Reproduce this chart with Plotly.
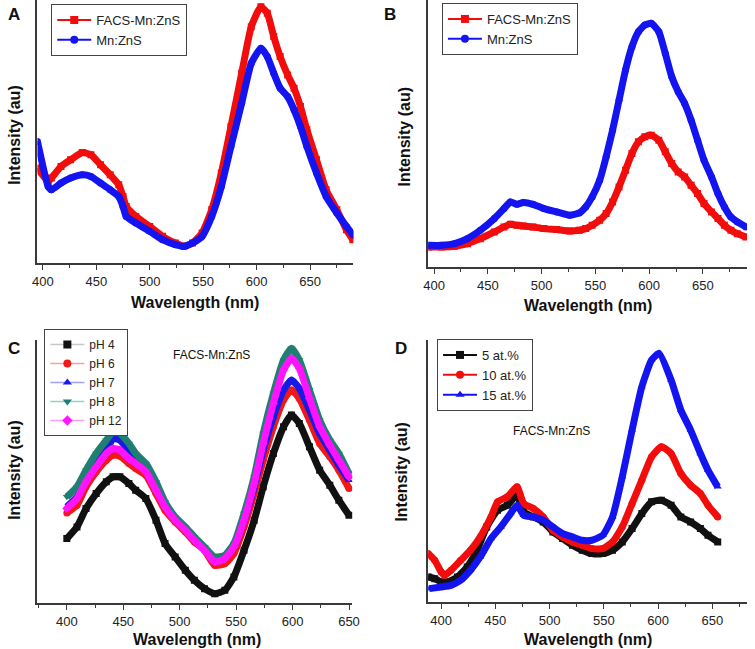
import plotly.graph_objects as go

# ---------------- Panel A ----------------
wl_a = [395, 405, 408, 417, 426, 437, 445, 454, 463, 471, 475, 478, 487, 500, 512, 524, 532, 540, 549,
        558, 567, 576, 586, 595, 604, 610, 616, 622, 629, 635, 641, 647, 656, 665, 675, 684, 690]
a_facs = [285, 245, 255, 290, 310, 332, 325, 295, 265, 235, 200, 170, 140, 110, 80, 60, 50, 60, 90,
          160, 270, 410, 570, 710, 770, 750, 680, 620, 565, 525, 470, 400, 310, 220, 160, 100, 70]
a_mn = [365, 230, 220, 240, 255, 265, 260, 240, 220, 200, 170, 140, 120, 95, 70, 55, 50, 60, 80,
        140, 230, 350, 480, 600, 645, 620, 570, 525, 500, 460, 410, 350, 270, 200, 150, 110, 85]

# ---------------- Panel B ----------------
wl_b = [395, 407, 419, 431, 443, 456, 465, 471, 477, 483, 492, 502, 514, 526, 535, 541, 547, 554, 560, 566,
        572, 578, 584, 590, 596, 602, 609, 615, 621, 627, 633, 639, 645, 651, 658, 664, 670, 676, 682, 690]
b_facs = [60, 60, 62, 70, 85, 105, 120, 128, 125, 123, 120, 115, 112, 108, 110, 115, 125, 140, 160, 195,
          240, 290, 340, 375, 390, 395, 380, 345, 310, 285, 270, 245, 220, 190, 165, 145, 125, 110, 100, 90]
b_mn = [65, 65, 70, 85, 110, 145, 175, 195, 188, 193, 188, 175, 165, 155, 162, 180, 210, 260, 330, 410,
        500, 590, 660, 705, 725, 730, 705, 640, 570, 525, 490, 440, 380, 320, 270, 220, 180, 150, 135, 120]

# ---------------- Panel C ----------------
wl_c = [400, 409, 417, 426, 435, 441, 447, 455, 461, 470, 479, 487, 496, 505, 513, 522, 531, 540, 548, 557,
        566, 574, 583, 592, 599, 606, 615, 624, 633, 641, 650]
c_ph4 = [193, 228, 283, 328, 363, 378, 378, 358, 338, 313, 248, 178, 138, 98, 68, 43, 28, 38, 78, 158,
         248, 348, 448, 528, 563, 538, 468, 398, 353, 308, 263]
c_ph6 = [270, 293, 348, 393, 428, 443, 440, 418, 403, 383, 328, 278, 243, 213, 183, 158, 113, 118, 148, 228,
         328, 428, 528, 608, 638, 613, 548, 478, 438, 398, 343]
c_ph7 = [288, 318, 368, 418, 458, 493, 488, 458, 433, 408, 348, 293, 253, 223, 193, 163, 133, 138, 168, 248,
         348, 458, 558, 638, 668, 643, 578, 508, 458, 413, 368]
c_ph8 = [318, 348, 398, 448, 488, 513, 508, 478, 448, 418, 363, 303, 258, 228, 198, 168, 138, 143, 178, 268,
         378, 508, 628, 728, 763, 728, 638, 548, 488, 448, 388]
c_ph12 = [283, 313, 363, 408, 448, 463, 458, 433, 418, 393, 338, 288, 248, 218, 188, 158, 123, 133, 168, 248,
          358, 478, 598, 698, 733, 703, 613, 528, 473, 428, 378]

# ---------------- Panel D ----------------
wl_d5 = [388, 394, 400, 406, 415, 424, 433, 442, 452, 461, 470, 476, 485, 494, 503, 512, 521, 530, 539, 549,
         558, 567, 576, 585, 594, 603, 612, 621, 630, 639, 646, 655]
d_5 = [75, 70, 60, 60, 75, 105, 155, 225, 275, 290, 320, 270, 255, 240, 210, 190, 170, 155, 145, 145,
       155, 180, 220, 265, 300, 305, 290, 255, 240, 220, 200, 180]
wl_d10 = [388, 394, 400, 403, 409, 418, 427, 436, 446, 452, 461, 470, 476, 485, 494, 503, 512, 521, 530, 539,
          549, 558, 567, 576, 585, 594, 603, 612, 621, 630, 639, 646, 655]
d_10 = [145, 125, 90, 80, 95, 125, 155, 195, 255, 300, 315, 345, 295, 280, 255, 215, 195, 180, 170, 160,
        160, 180, 225, 295, 365, 435, 465, 445, 385, 350, 325, 290, 255]
wl_d15 = [389, 400, 409, 418, 427, 436, 446, 455, 464, 470, 476, 485, 494, 503, 512, 521, 530, 539, 549, 558,
          567, 576, 585, 594, 601, 612, 621, 630, 639, 646, 655]
d_15 = [40, 45, 50, 65, 95, 135, 190, 225, 265, 290, 260, 255, 245, 225, 205, 195, 185, 185, 200, 255,
        375, 515, 645, 725, 745, 665, 575, 515, 445, 395, 345]

tick_vals = [400, 450, 500, 550, 600, 650]
tick_text = ["400", "450", "500", "550", "600", "650"]

FONT = "Liberation Sans, Arial, sans-serif"
RED = "#f20d0d"
BLUE = "#1414f0"
BLACK = "#111111"
TEAL = "#1f7f72"
MAG = "#ff14ff"

W, H = 755, 649


def px_x(p):
    return p / W


def px_y(p):
    return 1 - p / H


fig = go.Figure()


def add_series(x, y, color, symbol, xa, ya):
    fig.add_trace(go.Scatter(
        x=x, y=y, mode="lines+markers", xaxis=xa, yaxis=ya, showlegend=False,
        line=dict(color=color, width=7, shape="spline", smoothing=0.5),
        marker=dict(color=color, symbol=symbol, size=7),
        hoverinfo="skip"))


def add_legend(name, color, symbol, legend, xa, ya, linecolor=None, lw=2):
    fig.add_trace(go.Scatter(
        x=[None], y=[None], mode="lines+markers", name=name, legend=legend,
        xaxis=xa, yaxis=ya,
        line=dict(color=linecolor or color, width=lw),
        marker=dict(color=color, symbol=symbol, size=8)))


# Panel A
add_series(wl_a, a_facs, RED, "square", "x", "y")
add_series(wl_a, a_mn, BLUE, "circle", "x", "y")
add_legend("FACS-Mn:ZnS", RED, "square", "legend", "x", "y")
add_legend("Mn:ZnS", BLUE, "circle", "legend", "x", "y")

# Panel B
add_series(wl_b, b_facs, RED, "square", "x2", "y2")
add_series(wl_b, b_mn, BLUE, "circle", "x2", "y2")
add_legend("FACS-Mn:ZnS", RED, "square", "legend2", "x2", "y2")
add_legend("Mn:ZnS", BLUE, "circle", "legend2", "x2", "y2")

# Panel C
add_series(wl_c, c_ph4, BLACK, "square", "x3", "y3")
add_series(wl_c, c_ph6, "#f01818", "circle", "x3", "y3")
add_series(wl_c, c_ph7, "#1a1ae6", "triangle-up", "x3", "y3")
add_series(wl_c, c_ph8, TEAL, "triangle-down", "x3", "y3")
add_series(wl_c, c_ph12, MAG, "diamond", "x3", "y3")
add_legend("pH 4", BLACK, "square", "legend3", "x3", "y3", "#c8c8c8", 1.5)
add_legend("pH 6", "#f01818", "circle", "legend3", "x3", "y3", "#f5a0a0", 1.5)
add_legend("pH 7", "#1a1ae6", "triangle-up", "legend3", "x3", "y3", "#a0a0f0", 1.5)
add_legend("pH 8", TEAL, "triangle-down", "legend3", "x3", "y3", "#98cfc6", 1.5)
add_legend("pH 12", MAG, "diamond", "legend3", "x3", "y3", "#f8a0f8", 1.5)

# Panel D
add_series(wl_d5, d_5, BLACK, "square", "x4", "y4")
add_series(wl_d10, d_10, RED, "circle", "x4", "y4")
add_series(wl_d15, d_15, BLUE, "triangle-up", "x4", "y4")
add_legend("5 at.%", BLACK, "square", "legend4", "x4", "y4")
add_legend("10 at.%", RED, "circle", "legend4", "x4", "y4")
add_legend("15 at.%", BLUE, "triangle-up", "legend4", "x4", "y4")

AX = "#3a3a3a"


def xaxis(dom, rng, anchor):
    return dict(domain=dom, range=rng, anchor=anchor, showline=True, linecolor=AX, linewidth=1.5,
                mirror=False, showgrid=False, zeroline=False, ticks="outside", ticklen=5,
                tickwidth=1.2, tickcolor=AX, tickvals=tick_vals, ticktext=tick_text,
                ticklabelstandoff=1,
                tickfont=dict(family=FONT, size=13, color="#222"),
                minor=dict(ticks="outside", ticklen=3, tickcolor=AX, tickwidth=1, dtick=25, tick0=400))


def yaxis(dom, rng, anchor):
    return dict(domain=dom, range=rng, anchor=anchor, showline=True, linecolor=AX, linewidth=1.5,
                mirror=False, showgrid=False, zeroline=False, ticks="", showticklabels=False)


def legend(x, y, size=13):
    return dict(x=x, y=y, xref="paper", yref="paper", xanchor="left", yanchor="top",
                bgcolor="white", bordercolor="#444", borderwidth=1,
                font=dict(family=FONT, size=size, color="#222"), itemwidth=34,
                tracegroupgap=0)


ann = []


def text(t, x, y, size, bold=False, angle=0):
    ann.append(dict(text=("<b>%s</b>" % t) if bold else t, x=px_x(x), y=px_y(y), xref="paper",
                    yref="paper", xanchor="center", yanchor="middle", showarrow=False,
                    textangle=angle, font=dict(family=FONT, size=size, color="#111")))


text("A", 9, 15, 17, True)
text("B", 391, 15, 17, True)
text("C", 9, 348, 17, True)
text("D", 402, 348, 17, True)
for (x, y) in [(9, 135), (406, 137), (10, 470), (402, 472)]:
    text("Intensity (au)", x, y, 16, True, -90)
for (x, y) in [(193, 302), (592, 305), (195, 639), (592, 639)]:
    text("Wavelength (nm)", x, y, 16, True)
text("FACS-Mn:ZnS", 210, 355, 12)
text("FACS-Mn:ZnS", 555, 431, 12)

fig.update_layout(
    width=W, height=H, margin=dict(l=0, r=0, t=0, b=0),
    paper_bgcolor="white", plot_bgcolor="white",
    xaxis=xaxis([px_x(33), px_x(354)], [395, 690.5], "y"),
    yaxis=yaxis([px_y(263), 1.0], [0, 790], "x"),
    xaxis2=xaxis([px_x(430), px_x(754)], [394.5, 691], "y2"),
    yaxis2=yaxis([px_y(267), 1.0], [0, 800], "x2"),
    xaxis3=xaxis([px_x(33), px_x(353)], [374, 653], "y3"),
    yaxis3=yaxis([px_y(603), px_y(340)], [0, 788], "x3"),
    xaxis4=xaxis([px_x(430), px_x(754)], [388, 682], "y4"),
    yaxis4=yaxis([px_y(602), px_y(340)], [0, 785], "x4"),
    legend=legend(px_x(47), px_y(4)),
    legend2=legend(px_x(444), px_y(3)),
    legend3=legend(px_x(40), px_y(329), 12),
    legend4=legend(px_x(439), px_y(339)),
    annotations=ann,
)

fig.write_html("out.html", config={"displayModeBar": False},
               post_script="document.body.style.margin='0';document.body.style.padding='0';")
